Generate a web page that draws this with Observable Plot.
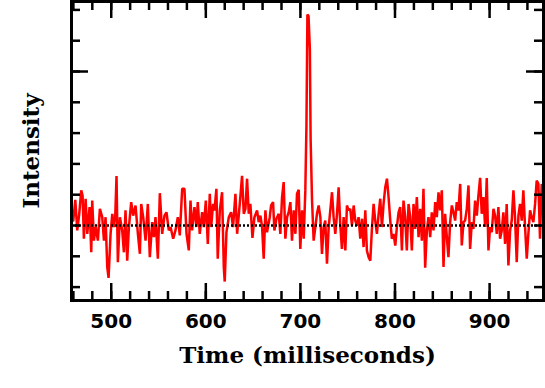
<!DOCTYPE html>
<html><head><meta charset="utf-8">
<script src="https://cdn.jsdelivr.net/npm/d3@7"></script>
<script src="https://cdn.jsdelivr.net/npm/@observablehq/plot@0.6"></script>
<style>html,body{margin:0;padding:0;background:#fff;} svg{display:block;}</style>
</head><body><div id="chart"></div>
<script>
const timeMs = [
459.9,462.0,464.1,466.2,468.3,469.7,471.1,472.9,474.7,477.1,
478.9,479.9,481.7,483.5,485.9,488.0,490.5,492.3,494.0,495.8,
497.2,499.3,501.1,502.8,504.2,505.6,507.0,509.2,511.6,513.4,
515.1,516.9,518.7,521.1,523.2,525.7,528.2,530.3,531.7,533.8,
536.3,538.7,540.8,543.3,545.1,546.8,549.3,551.4,553.9,556.3,
558.4,560.9,562.7,565.5,567.9,570.4,572.5,575.0,577.4,579.6,
582.0,583.8,585.5,588.0,590.1,591.5,593.6,596.1,597.9,600.0,
602.1,604.2,605.6,607.7,609.1,611.2,612.6,614.8,617.2,619.0,
620.0,621.8,624.3,626.7,628.8,631.3,633.1,635.9,638.3,640.1,
641.9,643.6,645.4,647.1,649.3,651.4,654.2,655.9,657.7,659.5,
661.2,663.0,664.7,667.6,669.0,671.1,672.5,674.6,677.1,678.8,
680.6,682.3,684.1,685.9,687.6,689.4,691.1,692.9,694.7,696.4,
698.2,699.9,701.7,703.5,705.2,706.4,707.4,708.6,710.0,710.8,712.3,
714.0,715.8,717.5,719.3,721.1,722.8,724.6,726.3,728.1,729.9,
731.6,733.4,735.1,736.9,738.7,740.4,742.2,743.9,745.7,747.5,
749.2,751.0,752.7,754.5,756.3,758.0,759.8,761.5,763.3,765.1,
766.8,768.6,770.3,772.1,773.9,775.6,777.4,779.1,780.9,782.7,
784.4,786.2,787.9,789.7,791.5,793.2,795.0,796.7,798.5,800.3,
802.0,803.8,805.5,807.3,809.0,810.8,812.5,814.3,816.1,817.8,
819.6,821.3,823.1,824.9,826.6,828.4,830.1,831.9,833.7,835.4,
837.2,838.9,840.7,842.5,844.2,846.0,847.7,849.5,851.3,853.0,
854.8,856.5,858.3,860.1,861.8,863.6,865.3,867.1,868.9,870.6,
872.4,874.1,875.9,877.7,879.4,881.2,882.9,884.7,886.5,888.2,
890.0,891.7,893.5,895.3,897.0,898.8,900.5,902.3,904.1,905.8,
907.6,909.3,911.1,912.9,914.6,916.4,918.1,919.9,921.7,923.4,
925.2,926.9,928.7,930.5,932.2,934.0,935.7,937.5,939.3,941.0,
942.8,944.5,946.3,948.1,949.8,951.6,953.3,955.1,956.9
];
const intensity = [
0.16,0.83,-0.16,0.38,1.14,0.97,-0.43,0.87,-0.27,0.60,
-0.87,0.81,-0.49,-0.05,-0.49,0.54,0.27,-0.49,0.27,-1.35,
-1.70,-0.27,0.38,-0.05,0.27,1.61,-1.19,0.27,-0.16,-0.87,
0.49,-1.14,-0.05,0.76,0.32,0.65,-0.27,-0.92,0.70,0.27,
-0.49,0.70,-1.03,0.11,-0.38,0.27,-1.08,1.05,-0.27,0.32,
0.43,-0.16,-0.05,-0.43,-0.16,0.27,-0.32,1.19,1.19,-0.27,
-0.81,0.81,-0.16,0.60,-0.05,0.76,-0.27,0.43,-0.05,0.81,
-0.60,1.03,-0.05,0.70,0.49,1.19,-1.08,0.49,1.08,-1.35,
-1.82,-0.22,0.27,0.43,-0.05,1.03,-0.27,0.70,1.61,0.38,
0.54,1.52,0.38,0.70,-0.40,0.27,0.49,0.11,0.32,-0.05,
-1.08,0.49,-0.22,0.27,0.65,0.76,-0.16,0.22,0.38,-0.27,
0.92,1.41,-0.43,0.27,0.43,0.76,-0.49,0.49,-0.27,1.03,
1.16,-0.76,0.49,-0.43,1.14,3.28,6.85,6.80,5.71,2.80,0.81,
-0.49,-0.05,0.38,0.65,0.27,-0.92,-0.05,0.16,-1.24,-0.05,
0.49,1.08,0.27,-0.27,0.38,1.24,0.00,-0.76,0.27,-0.81,
0.65,0.49,0.54,0.00,0.65,0.16,0.00,0.27,-0.43,0.22,
-0.70,0.49,-0.81,-1.03,-1.14,-0.11,0.70,0.16,-0.27,0.38,
0.87,-0.05,0.70,1.24,1.52,0.92,0.16,-0.43,-0.27,-0.65,
-0.05,0.43,0.60,-0.81,0.81,0.27,-0.81,0.70,0.27,-0.81,
0.70,-0.11,0.92,-0.38,0.54,-0.49,1.19,-1.37,-0.16,0.27,
-0.38,0.43,-0.16,0.76,0.27,1.08,0.49,1.14,-1.35,0.38,
-0.38,-1.03,0.11,0.65,0.43,0.16,0.76,0.49,1.35,-0.65,
0.11,0.16,0.54,1.30,-0.76,0.11,-0.11,0.81,0.32,0.97,
1.55,0.38,0.92,-0.05,1.54,-0.81,-0.05,-0.22,0.54,0.32,
-0.27,0.60,-0.43,-0.16,0.43,-0.60,0.70,-1.30,-0.16,0.16,
1.14,0.27,-1.19,0.32,0.70,0.16,1.14,-0.05,-1.08,-0.27,
0.49,0.27,0.11,0.70,1.46,1.35,-0.43,1.35,1.03
];
const baseline = [0];
const xMajorTicks = [500, 600, 700, 800, 900];
const xMinorTicks = [460,480,500,520,540,560,580,600,620,640,660,680,700,720,740,760,780,800,820,840,860,880,900,920,940];
const yMinorTicks = [-2,-1,0,1,2,3,4,5,6,7];
const yMajorTicks = [5];
const xLabel = "Time (milliseconds)";
const yLabel = "Intensity";

const W = 545, H = 388, mL = 71, mR = 2, mT = 1, mB = 88;
const innerW = W - mL - mR, innerH = H - mT - mB;
const minorLen = 9, majorLen = 17;

const data = timeMs.map((t, i) => ({t, v: intensity[i]}));
const tk = {stroke: "black", strokeWidth: 2.5};

const chart = Plot.plot({
  width: W, height: H,
  marginLeft: mL, marginRight: mR, marginTop: mT, marginBottom: mB,
  x: {domain: [458, 957], axis: null},
  y: {domain: [-2.435, 7.273], axis: null},
  style: {background: "white", overflow: "visible"},
  marks: [
    Plot.line(data, {x: "t", y: "v", stroke: "#ff0000", strokeWidth: 2.5, strokeLinejoin: "miter"}),
    Plot.ruleY(baseline, {stroke: "black", strokeWidth: 2.5, strokeDasharray: "2,2"}),
    Plot.tickX(xMinorTicks, {x: d => d, ...tk, insetTop: innerH - minorLen}),
    Plot.tickX(xMajorTicks, {x: d => d, ...tk, insetTop: innerH - majorLen}),
    Plot.tickX(xMinorTicks, {x: d => d, ...tk, insetBottom: innerH - minorLen}),
    Plot.tickX(xMajorTicks, {x: d => d, ...tk, insetBottom: innerH - majorLen}),
    Plot.tickY(yMinorTicks, {y: d => d, ...tk, insetRight: innerW - minorLen}),
    Plot.tickY(yMajorTicks, {y: d => d, ...tk, insetRight: innerW - majorLen}),
    Plot.tickY(yMinorTicks, {y: d => d, ...tk, insetLeft: innerW - minorLen}),
    Plot.tickY(yMajorTicks, {y: d => d, ...tk, insetLeft: innerW - majorLen}),
    Plot.frame({stroke: "black", strokeWidth: 3}),
    Plot.axisX(xMajorTicks, {anchor: "bottom", tickSize: 0, tickPadding: 13, label: null,
      fontSize: 20, fontFamily: "DejaVu Sans", fontWeight: "bold", fill: "black"}),
    Plot.text([xLabel], {text: d => d, frameAnchor: "bottom", lineAnchor: "bottom", dy: 62,
      fontSize: 23, fontFamily: "DejaVu Serif", fontWeight: "bold", fill: "black"}),
    Plot.text([yLabel], {text: d => d, frameAnchor: "left", textAnchor: "middle", rotate: -90, dx: -40, lineAnchor: "middle",
      fontSize: 23, fontFamily: "DejaVu Serif", fontWeight: "bold", fill: "black"})
  ]
});
document.getElementById("chart").appendChild(chart);
</script>
</body></html>
